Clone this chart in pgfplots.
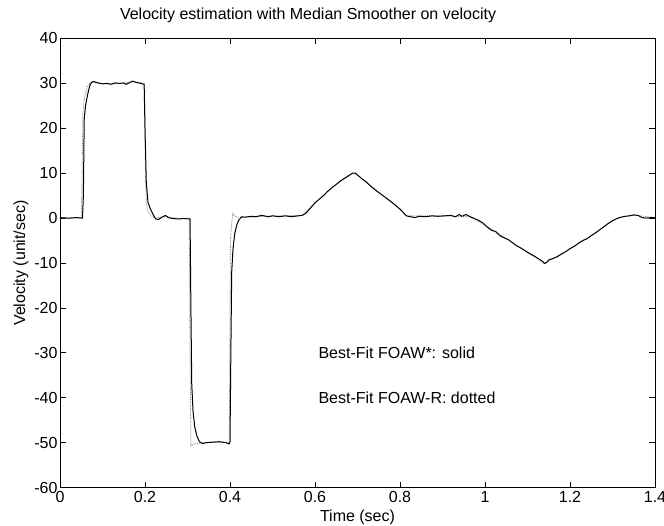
\documentclass[border=0pt]{standalone}
\usepackage{pgfplots}
\pgfplotsset{compat=1.18}
\usepackage{fontspec}
\setmainfont{Liberation Sans}

% solid: Best-Fit FOAW*
\pgfplotstableread{
t v
0 0.1
0.02 0.0
0.04 0.1
0.053 0.0
0.055 5
0.057 22
0.060 25
0.065 27.5
0.070 29.5
0.075 30.3
0.080 30.4
0.090 30.1
0.100 29.9
0.110 30.0
0.120 29.8
0.130 30.1
0.140 30.0
0.150 30.1
0.155 29.8
0.165 30.2
0.170 30.5
0.180 30.2
0.190 30.0
0.198 29.8
0.200 20
0.203 8
0.207 3.5
0.212 2.2
0.218 1.0
0.225 -0.2
0.232 -0.3
0.240 0.2
0.248 0.6
0.255 0.1
0.265 -0.1
0.280 -0.2
0.290 -0.1
0.306 -0.2
0.308 -20
0.310 -37
0.313 -43
0.317 -46.5
0.322 -48.5
0.328 -49.8
0.335 -50.2
0.345 -50.0
0.360 -49.9
0.375 -49.8
0.390 -50.0
0.398 -50.3
0.400 -49.8
0.402 -30
0.404 -12
0.407 -7
0.411 -3.5
0.416 -1.5
0.421 -0.4
0.428 0.3
0.435 0.2
0.450 0.4
0.460 0.3
0.475 0.6
0.490 0.3
0.500 0.5
0.515 0.3
0.530 0.5
0.545 0.3
0.560 0.5
0.570 0.6
0.580 1.2
0.590 2.3
0.600 3.4
0.610 4.2
0.620 5.0
0.630 6.0
0.640 6.8
0.650 7.5
0.660 8.3
0.670 8.9
0.680 9.5
0.688 10.0
0.695 10.0
0.700 9.6
0.710 8.8
0.720 8.1
0.730 7.2
0.740 6.4
0.750 5.7
0.760 5.0
0.770 4.3
0.780 3.6
0.790 2.8
0.800 2.0
0.810 1.0
0.815 0.5
0.825 0.3
0.835 0.1
0.845 0.4
0.860 0.3
0.875 0.5
0.890 0.4
0.905 0.5
0.920 0.6
0.930 0.3
0.940 0.8
0.945 0.4
0.955 0.8
0.965 0.3
0.975 -0.1
0.985 -0.5
0.995 -1.1
1.005 -2.0
1.015 -2.7
1.025 -3.0
1.035 -3.9
1.045 -4.4
1.055 -4.8
1.065 -5.5
1.075 -6.2
1.085 -6.7
1.095 -7.3
1.105 -7.9
1.115 -8.4
1.125 -9.0
1.135 -9.6
1.140 -10.1
1.145 -9.9
1.150 -9.3
1.160 -9.0
1.170 -8.6
1.180 -8.0
1.190 -7.5
1.200 -6.8
1.210 -6.3
1.220 -5.6
1.230 -5.0
1.240 -4.6
1.250 -3.9
1.260 -3.3
1.270 -2.6
1.280 -1.9
1.290 -1.2
1.300 -0.6
1.310 -0.1
1.320 0.2
1.330 0.4
1.340 0.5
1.350 0.7
1.360 0.6
1.370 0.1
1.380 0.0
1.390 0.1
1.400 0.1
}\solid

% dotted: Best-Fit FOAW-R
\pgfplotstableread{
t v
0 0.0
0.050 0.0
0.052 10
0.054 24
0.058 27
0.065 29.5
0.072 30.3
0.090 30.0
0.120 29.9
0.150 30.0
0.170 30.4
0.199 30.0
0.201 10
0.203 3
0.207 1.5
0.215 0.5
0.225 0.0
0.250 0.4
0.280 -0.1
0.304 0.0
0.306 -30
0.308 -50.8
0.312 -50.5
0.320 -50.2
0.340 -50.0
0.370 -49.9
0.398 -50.0
0.399 -40
0.401 -5
0.404 -1
0.407 1.0
0.410 0.5
0.415 0.2
0.435 0.2
0.500 0.5
0.570 0.6
0.600 3.4
0.650 7.5
0.688 10.0
0.700 9.6
0.750 5.7
0.800 2.0
0.815 0.5
0.900 0.5
0.965 0.3
1.000 -1.5
1.050 -4.6
1.100 -7.6
1.140 -10.1
1.200 -6.8
1.250 -3.9
1.300 -0.6
1.320 0.2
1.350 0.7
1.400 0.1
}\dotted

\begin{document}
\begin{tikzpicture}
\begin{axis}[
    scale only axis,
    width=595pt, height=449pt,
    xmin=0, xmax=1.4, ymin=-60, ymax=40,
    xtick={0,0.2,0.4,0.6,0.8,1,1.2,1.4},
    ytick={-60,-50,-40,-30,-20,-10,0,10,20,30,40},
    tick align=inside,
    major tick length=6pt,
    tick style={black, line width=0.6pt},
    axis line style={line width=0.8pt},
    font=\fontsize{16}{19}\selectfont,
    /pgf/number format/assume math mode=true,
    ticklabel style={font=\fontsize{16}{19}\selectfont},
    yticklabel style={xshift=1pt},
    xlabel={Time (sec)},
    ylabel={Velocity (unit/sec)},
    xlabel style={at={(axis description cs:0.5,-0.0657)}, anchor=center},
    ylabel style={at={(axis description cs:-0.0655,0.5)}, anchor=center},
    title={Velocity estimation with Median Smoother on velocity},
    title style={at={(axis description cs:0.417,1.028)}, anchor=base},
]
\addplot[gray, densely dotted, line width=0.8pt] table[x=t, y=v] {\dotted};
\addplot[black, line width=1pt] table[x=t, y=v] {\solid};
\node[anchor=west] at (axis cs:0.6,-30) {Best-Fit FOAW*: solid};
\node[anchor=west] at (axis cs:0.6,-40) {Best-Fit FOAW-R: dotted};
\end{axis}
\pgfresetboundingbox
\useasboundingbox (-60pt,-37.5pt) rectangle (604pt,487.5pt);
\end{tikzpicture}
\end{document}
